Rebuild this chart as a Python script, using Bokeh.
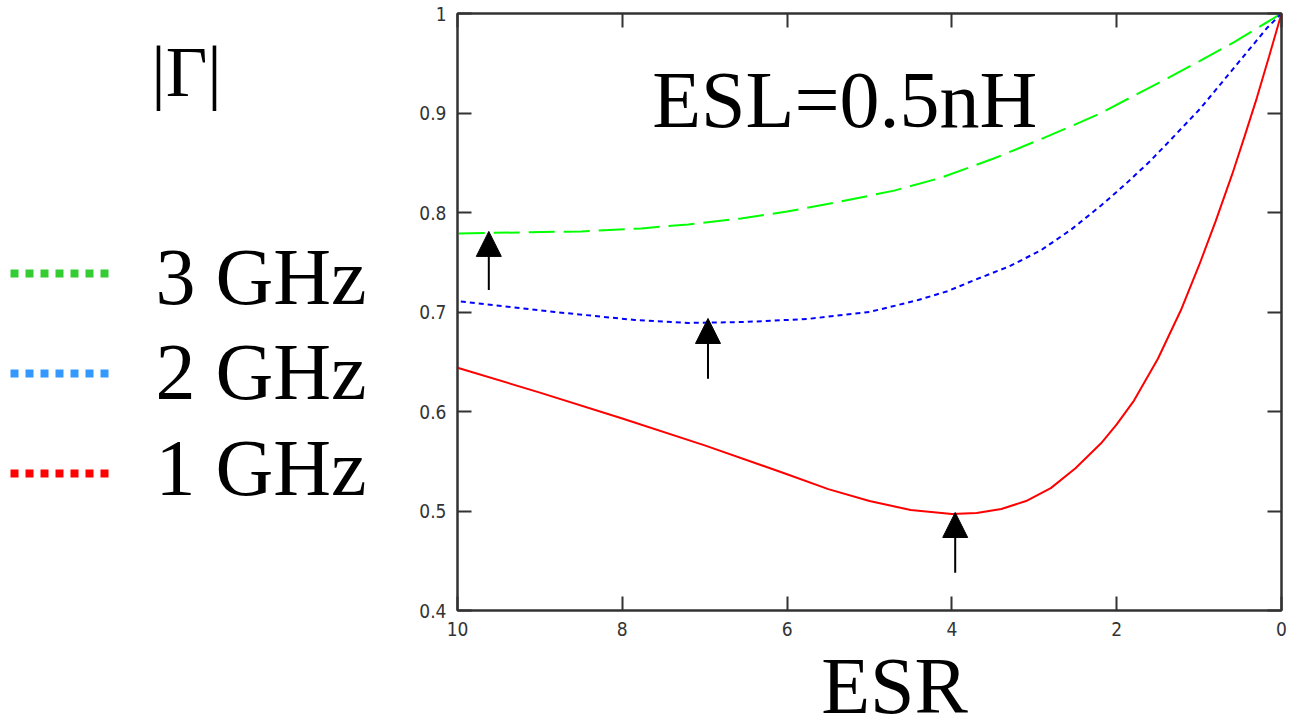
from bokeh.plotting import figure
from bokeh.layouts import row, column
from bokeh.models import (Range1d, LinearAxis, FixedTicker, Arrow, NormalHead, Label,
                          ColumnDataSource, CustomJSTickFormatter)
from bokeh.core.properties import value
from bokeh.embed import file_html
from bokeh.resources import INLINE

# ---- data ----
esr_1ghz = [0.0, 0.15, 0.3, 0.45, 0.6, 0.8, 1.0, 1.22, 1.5, 1.79, 2.0, 2.19, 2.5, 2.8, 3.1,
            3.4, 3.7, 4.0, 4.5, 5.0, 5.5, 6.0, 7.0, 8.0, 9.0, 10.0]
gamma_1ghz = [1.0, 0.957, 0.915, 0.876, 0.838, 0.791, 0.747, 0.702, 0.653, 0.611, 0.587, 0.568,
              0.543, 0.523, 0.51, 0.502, 0.498, 0.497, 0.501, 0.51, 0.522, 0.537, 0.566, 0.593,
              0.619, 0.644]

esr_2ghz = [0.0, 0.17, 0.5, 0.98, 1.3, 1.59, 1.9, 2.19, 2.55, 2.92, 3.3, 3.73, 4.05, 4.41, 5.0,
            5.75, 6.5, 7.2, 7.85, 8.82, 10.0]
gamma_2ghz = [1.0, 0.986, 0.953, 0.905, 0.877, 0.852, 0.828, 0.807, 0.783, 0.762, 0.746, 0.732,
              0.721, 0.712, 0.70, 0.693, 0.69, 0.689, 0.692, 0.70, 0.711]

esr_3ghz = [0.0, 0.3, 0.58, 1.0, 1.38, 1.8, 2.19, 2.6, 3.0, 3.5, 4.13, 4.7, 5.35, 6.0, 6.56,
            7.2, 7.77, 8.5, 9.2, 10.0]
gamma_3ghz = [1.0, 0.985, 0.971, 0.952, 0.935, 0.917, 0.90, 0.885, 0.871, 0.854, 0.835, 0.822,
              0.811, 0.801, 0.794, 0.788, 0.784, 0.781, 0.78, 0.779]

legend_labels = ["3 GHz", "2 GHz", "1 GHz"]
legend_colors = ["#33cc33", "#3399ff", "#ff0000"]

x_ticks = [0, 2, 4, 6, 8, 10]
x_tick_labels = ["0", "2", "4", "6", "8", "10"]
y_ticks = [0.4, 0.5, 0.6, 0.7, 0.8, 0.9, 1.0]
y_tick_labels = ["0.4", "0.5", "0.6", "0.7", "0.8", "0.9", "1"]

arrow_esr = [9.62, 6.96, 3.96]
arrow_tail = [0.722, 0.633, 0.438]
arrow_tip = [0.781, 0.6935, 0.4985]

SERIF = "Liberation Serif"
TICKFONT = "DejaVu Sans Condensed, Liberation Sans, sans-serif"
AXC = "#333333"

TOP, BOTTOM = 13, 40   # borders shared by the two upper panels

# ---- left panel: |Γ| and legend (pixel coordinates) ----
lp = figure(width=400, height=650, x_range=Range1d(0, 400), y_range=Range1d(650 - BOTTOM, TOP),
            output_backend="svg", toolbar_location=None,
            min_border_left=0, min_border_right=0, min_border_top=TOP, min_border_bottom=BOTTOM,
            x_axis_location=None, y_axis_location=None)
lp.grid.visible = False
lp.outline_line_color = None

lp.text(x=[186], y=[71], text=["|Γ|"], text_font=value(SERIF), text_font_size=value("72px"),
        text_align="center", text_baseline="middle", text_color="black")

line_ys = [273, 373, 473]
text_ys = [276, 371, 467]
for lbl, col, ly, ty in zip(legend_labels, legend_colors, line_ys, text_ys):
    lp.line([10, 108], [ly, ly], line_color=col, line_width=8, line_dash="8 7", line_cap="butt")
    lp.text(x=[155], y=[ty], text=[lbl], text_font=value(SERIF), text_font_size=value("80px"),
            text_align="left", text_baseline="middle", text_color="black")

# ---- main plot ----
p = figure(width=891, height=650, x_range=Range1d(10, 0), y_range=Range1d(0.4, 1.0),
           output_backend="svg", toolbar_location=None,
           min_border_left=57, min_border_right=10, min_border_top=TOP, min_border_bottom=BOTTOM,
           x_axis_location=None, y_axis_location=None)
p.grid.visible = False
p.outline_line_color = AXC
p.outline_line_width = 2


def make_axis(ticks, labels, show):
    ax = LinearAxis(ticker=FixedTicker(ticks=ticks))
    ax.major_tick_in = 14
    ax.major_tick_out = 0
    ax.minor_tick_in = 0
    ax.minor_tick_out = 0
    ax.axis_line_color = AXC
    ax.axis_line_width = 2
    ax.major_tick_line_color = AXC
    ax.major_tick_line_width = 2
    if show:
        ax.formatter = CustomJSTickFormatter(args=dict(labels=labels), code="return labels[index];")
        ax.major_label_text_font = TICKFONT
        ax.major_label_text_font_size = "19px"
        ax.major_label_text_color = AXC
        ax.major_label_standoff = 11
    else:
        ax.formatter = CustomJSTickFormatter(code="return '';")
        ax.major_label_text_font_size = "0px"
        ax.major_label_standoff = 0
    return ax


p.add_layout(make_axis(x_ticks, x_tick_labels, True), "below")
p.add_layout(make_axis(y_ticks, y_tick_labels, True), "left")
p.add_layout(make_axis(x_ticks, x_tick_labels, False), "above")
p.add_layout(make_axis(y_ticks, y_tick_labels, False), "right")

p.line(esr_3ghz, gamma_3ghz, line_color="#00ff00", line_width=2, line_dash="26 9")
p.line(esr_2ghz, gamma_2ghz, line_color="#0000ff", line_width=2, line_dash="5 4")
p.line(esr_1ghz, gamma_1ghz, line_color="#ff0000", line_width=2)

arrow_src = ColumnDataSource(dict(x=arrow_esr, y0=arrow_tail, y1=arrow_tip))
p.add_layout(Arrow(source=arrow_src, x_start="x", y_start="y0", x_end="x", y_end="y1",
                   line_width=2, line_color="black",
                   end=NormalHead(size=25, fill_color="black", line_color="black")))

p.add_layout(Label(x=5.3, y=0.9131, text="ESL=0.5nH", text_align="center",
                   text_baseline="middle", text_font=SERIF, text_font_size="80px",
                   text_color="black"))

# ---- bottom strip: x-axis title (pixel coordinates) ----
pb = figure(width=1291, height=69, x_range=Range1d(0, 1291), y_range=Range1d(69, 0),
            output_backend="svg", toolbar_location=None, min_border=0,
            x_axis_location=None, y_axis_location=None)
pb.grid.visible = False
pb.outline_line_color = None
pb.text(x=[894], y=[35], text=["ESR"], text_font=value(SERIF), text_font_size=value("80px"),
        text_align="center", text_baseline="middle", text_color="black")

layout = column(row(lp, p), pb)
open("out.html", "w").write(file_html(layout, INLINE))
